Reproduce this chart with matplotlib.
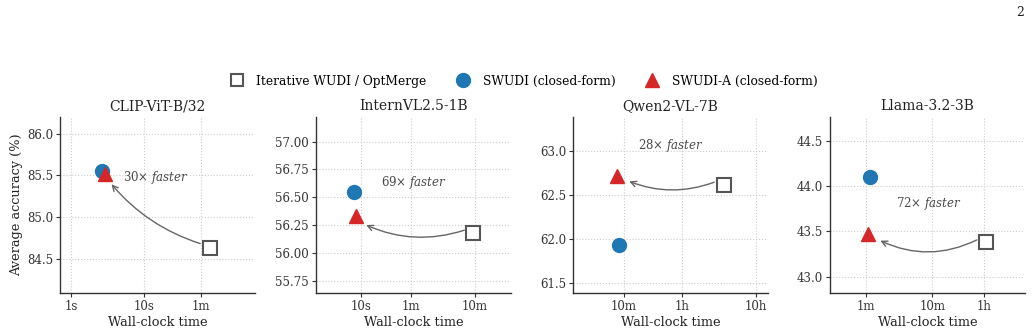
import matplotlib
matplotlib.use("Agg")
import matplotlib.pyplot as plt
from matplotlib.lines import Line2D

plt.rcParams['font.family'] = ['DejaVu Serif']
plt.rcParams['mathtext.fontset'] = 'dejavuserif'

models = ["CLIP-ViT-B/32", "InternVL2.5-1B", "Qwen2-VL-7B", "Llama-3.2-3B"]
# wall-clock time (seconds)
iter_time = [80, 562, 13300, 3870]
iter_acc = [84.63, 56.18, 62.62, 43.38]
swudi_time = [2.66, 7.8, 513, 69]
swudi_acc = [85.55, 56.55, 61.93, 44.10]
swudia_time = [2.92, 8.3, 482, 65]
swudia_acc = [85.52, 56.33, 62.72, 43.47]
speedups = [30, 69, 28, 72]

xlims = [(0.71, 331), (1.98, 2190), (123, 52200), (17, 15200)]
ylims = [(84.09, 86.2), (55.64, 57.22), (61.39, 63.39), (42.82, 44.76)]
xtick_vals = [[1, 10, 60], [10, 60, 600], [600, 3600, 36000], [60, 600, 3600]]
xtick_labels = [["1s", "10s", "1m"], ["10s", "1m", "10m"], ["10m", "1h", "10h"], ["1m", "10m", "1h"]]
ytick_vals = [[84.5, 85.0, 85.5, 86.0],
              [55.75, 56.0, 56.25, 56.5, 56.75, 57.0],
              [61.5, 62.0, 62.5, 63.0],
              [43.0, 43.5, 44.0, 44.5]]
ytick_fmt = ["{:.1f}", "{:.2f}", "{:.1f}", "{:.1f}"]
# annotation text positions (data coords)
text_pos = [(14.5, 85.48), (67, 56.63), (2550, 63.07), (540, 43.81)]
arrow_end = [(3.4, 85.42), (11, 56.26), (650, 62.67), (90, 43.41)]
arrow_rad = [-0.15, -0.2, -0.2, -0.25]

blue = "#1f77b4"
red = "#d62728"
gray = "#555555"
dark = "#333333"

fig = plt.figure(figsize=(10.36, 3.34), dpi=100)
lefts = [60, 316, 573, 830]
W, H = 1036, 334
axes = []
for i in range(4):
    ax = fig.add_axes([lefts[i] / W, 1 - 293 / H, 195 / W, 176 / H])
    axes.append(ax)
    ax.set_xscale('log')
    ax.grid(True, which='major', linestyle=':', color='#cccccc', linewidth=0.8)
    ax.set_axisbelow(True)
    ax.plot([iter_time[i]], [iter_acc[i]], marker='s', markersize=10, markerfacecolor='white',
            markeredgecolor=gray, markeredgewidth=1.5, linestyle='none', zorder=3)
    ax.plot([swudi_time[i]], [swudi_acc[i]], marker='o', markersize=10, color=blue,
            linestyle='none', zorder=4)
    ax.plot([swudia_time[i]], [swudia_acc[i]], marker='^', markersize=10, color=red,
            linestyle='none', zorder=5)
    ax.set_xlim(*xlims[i])
    ax.set_ylim(*ylims[i])
    ax.set_xticks(xtick_vals[i])
    ax.set_xticklabels(xtick_labels[i])
    ax.xaxis.set_minor_locator(matplotlib.ticker.NullLocator())
    ax.set_yticks(ytick_vals[i])
    ax.set_yticklabels([ytick_fmt[i].format(v) for v in ytick_vals[i]])
    ax.tick_params(labelsize=8.5, length=3, width=0.8, pad=2, colors=dark)
    for s in ['top', 'right']:
        ax.spines[s].set_visible(False)
    for s in ['left', 'bottom']:
        ax.spines[s].set_linewidth(1.0)
        ax.spines[s].set_color(dark)
    ax.set_title(models[i], fontsize=10, color='#222222', pad=5)
    ax.set_xlabel("Wall-clock time", fontsize=9.3, color='#222222', labelpad=2)
    ax.annotate("", xy=arrow_end[i], xytext=(iter_time[i] * 0.8, iter_acc[i] + (ylims[i][1]-ylims[i][0]) * 0.02),
                arrowprops=dict(arrowstyle='->', color='#666666', lw=1.0,
                                connectionstyle=f"arc3,rad={arrow_rad[i]}"), zorder=2)
    ax.text(text_pos[i][0], text_pos[i][1], f"{speedups[i]}$\\times$ $\\it{{faster}}$",
            fontsize=8.5, color='#4a4a4a', ha='center', va='center')

axes[0].set_ylabel("Average accuracy (%)", fontsize=9.3, color='#222222', labelpad=3)

handles = [
    Line2D([], [], marker='s', markersize=9, markerfacecolor='white', markeredgecolor=gray,
           markeredgewidth=1.5, linestyle='none'),
    Line2D([], [], marker='o', markersize=10, color=blue, linestyle='none'),
    Line2D([], [], marker='^', markersize=10, color=red, linestyle='none'),
]
labels = ["Iterative WUDI / OptMerge", "SWUDI (closed-form)", "SWUDI-A (closed-form)"]
fig.legend(handles, labels, loc='center', bbox_to_anchor=(0.503, 1 - 81 / H), ncol=3,
           frameon=False, fontsize=8.8, columnspacing=2.0, handletextpad=0.6)

fig.text(1020 / W, 1 - 12 / H, "2", fontsize=9, ha='center', va='center', color='#222222')

fig.savefig("out.png", dpi=100)
